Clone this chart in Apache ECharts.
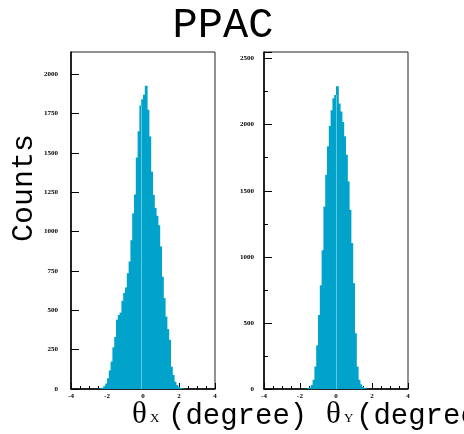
<!DOCTYPE html>
<html>
<head>
<meta charset="utf-8">
<script src="https://cdn.jsdelivr.net/npm/echarts@6/dist/echarts.min.js"></script>
<style>
  html, body { margin: 0; padding: 0; background: #fff; }
  #chart { width: 464px; height: 434px; }
</style>
</head>
<body>
<div id="chart"></div>
<script>
// Histogram bin width (degrees)
const binWidth = 0.1;

// θX histogram: lower bin edges and counts
const thetaXEdges = [-2.5, -2.4, -2.3, -2.2, -2.1, -2.0, -1.9, -1.8, -1.7, -1.6,
  -1.5, -1.4, -1.3, -1.2, -1.1, -1.0, -0.9, -0.8, -0.7, -0.6,
  -0.5, -0.4, -0.3, -0.2, -0.1, 0.0, 0.1, 0.2, 0.3, 0.4,
  0.5, 0.6, 0.7, 0.8, 0.9, 1.0, 1.1, 1.2, 1.3, 1.4,
  1.5, 1.6, 1.7, 1.8, 1.9, 2.0, 2.1, 2.2];
const thetaXCounts = [2, 4, 8, 18, 35, 68, 118, 174, 265, 330,
  440, 470, 485, 560, 610, 645, 735, 810, 945, 1115,
  1235, 1470, 1636, 1800, 1840, 1869, 1926, 1774, 1604, 1380,
  1233, 1150, 1100, 1040, 905, 713, 577, 460, 380, 312,
  142, 89, 46, 25, 14, 6, 3, 1];

// θY histogram: lower bin edges and counts
const thetaYEdges = [-1.7, -1.6, -1.5, -1.4, -1.3, -1.2, -1.1, -1.0, -0.9, -0.8,
  -0.7, -0.6, -0.5, -0.4, -0.3, -0.2, -0.1, 0.0, 0.1, 0.2,
  0.3, 0.4, 0.5, 0.6, 0.7, 0.8, 0.9, 1.0, 1.1, 1.2,
  1.3, 1.4, 1.5, 1.6, 1.7];
const thetaYCounts = [2, 5, 12, 30, 70, 170, 330, 560, 785, 1050,
  1380, 1620, 1836, 1990, 2110, 2200, 2225, 2290, 2160, 2100,
  2020, 1912, 1773, 1571, 1356, 1104, 801, 422, 169, 70,
  35, 15, 7, 3, 1];

// Axis ranges and tick steps
const xRange = [-4, 4];
const xTickStep = 2;
const yMaxX = 2140, yStepX = 250;
const yMaxY = 2550, yStepY = 500;

// Light seam line drawn through each histogram at these bin edges
const seamX = -0.1;
const seamY = 0.0;

const fillColor = '#02a3ca';
const seamColor = '#63c5e0';

function pairs(edges, counts) {
  return edges.map((e, i) => [e, counts[i]]);
}

function seamHeight(edges, counts, x) {
  const i = edges.findIndex(e => Math.abs(e - x) < 1e-9);
  return Math.min(counts[i], counts[i - 1]);
}

function renderBin(params, api) {
  const x0 = api.value(0);
  const h = api.value(1);
  const pTop = api.coord([x0, h]);
  const pEnd = api.coord([x0 + binWidth, 0]);
  return {
    type: 'rect',
    // a 1px overlap into the next bin keeps neighbouring bins seamless
    shape: { x: pTop[0], y: pTop[1], width: pEnd[0] - pTop[0] + 1, height: pEnd[1] - pTop[1] },
    style: { fill: fillColor }
  };
}

function renderSeam(params, api) {
  const a = api.coord([api.value(0), api.value(1)]);
  const b = api.coord([api.value(0), 0]);
  const x = Math.round(a[0]) + 0.5;
  return {
    type: 'line',
    shape: { x1: x, y1: a[1], x2: x, y2: b[1] },
    style: { stroke: seamColor, lineWidth: 1 }
  };
}

const labelFont = { fontFamily: 'Liberation Serif', fontWeight: 'bold', fontSize: 7, color: '#000' };

function xAxisCfg(gridIndex) {
  return {
    type: 'value', gridIndex, min: xRange[0], max: xRange[1], interval: xTickStep,
    axisLine: { show: true, onZero: false, lineStyle: { color: '#000', width: 1.5 } },
    axisTick: { show: true, inside: true, length: 6, lineStyle: { color: '#000' } },
    minorTick: { show: true, splitNumber: 4, length: 3, lineStyle: { color: '#000' } },
    splitLine: { show: false },
    axisLabel: Object.assign({ margin: 4, formatter: v => String(v) }, labelFont)
  };
}

function yAxisCfg(gridIndex, max, step, minor, margin) {
  return {
    type: 'value', gridIndex, min: 0, max: max, interval: step,
    axisLine: { show: true, onZero: false, lineStyle: { color: '#000', width: 1.5 } },
    axisTick: { show: true, inside: true, length: 8, lineStyle: { color: '#000' } },
    minorTick: { show: minor, splitNumber: 2, length: 4, lineStyle: { color: '#000' } },
    splitLine: { show: false },
    axisLabel: Object.assign({ margin: margin, showMaxLabel: false, formatter: v => String(v) }, labelFont)
  };
}

const chart = echarts.init(document.getElementById('chart'), null, { renderer: 'canvas' });
chart.setOption({
  animation: false,
  backgroundColor: '#fff',
  grid: [
    { left: 71, top: 52, width: 144, height: 337, show: true, borderColor: '#222', borderWidth: 1, backgroundColor: 'transparent' },
    { left: 264, top: 52, width: 144, height: 337, show: true, borderColor: '#222', borderWidth: 1, backgroundColor: 'transparent' }
  ],
  xAxis: [xAxisCfg(0), xAxisCfg(1)],
  yAxis: [
    yAxisCfg(0, yMaxX, yStepX, false, 13),
    yAxisCfg(1, yMaxY, yStepY, true, 10)
  ],
  series: [
    { type: 'custom', xAxisIndex: 0, yAxisIndex: 0, renderItem: renderBin, data: pairs(thetaXEdges, thetaXCounts), z: 1 },
    { type: 'custom', xAxisIndex: 1, yAxisIndex: 1, renderItem: renderBin, data: pairs(thetaYEdges, thetaYCounts), z: 1 },
    { type: 'custom', xAxisIndex: 0, yAxisIndex: 0, renderItem: renderSeam, data: [[seamX, seamHeight(thetaXEdges, thetaXCounts, seamX)]], z: 2 },
    { type: 'custom', xAxisIndex: 1, yAxisIndex: 1, renderItem: renderSeam, data: [[seamY, seamHeight(thetaYEdges, thetaYCounts, seamY)]], z: 2 }
  ],
  graphic: [
    { type: 'text', x: 223, y: 26, style: { text: 'PPAC', font: '42px "Liberation Mono"', fill: '#000', textAlign: 'center', textVerticalAlign: 'middle' } },
    { type: 'text', x: 24, y: 188, rotation: Math.PI / 2, style: { text: 'Counts', font: '30px "Liberation Mono"', fill: '#000', textAlign: 'center', textVerticalAlign: 'middle' } },
    // θX (degree)
    { type: 'text', x: 132, y: 415, style: { text: 'θ', font: '31px "Liberation Serif"', fill: '#000', textAlign: 'left', textVerticalAlign: 'middle' } },
    { type: 'text', x: 150, y: 419, style: { text: 'X', font: '13px "Liberation Serif"', fill: '#000', textAlign: 'left', textVerticalAlign: 'middle' } },
    { type: 'text', x: 168, y: 416, style: { text: '(degree)', font: '29px "Liberation Mono"', fill: '#000', textAlign: 'left', textVerticalAlign: 'middle' } },
    // θY (degree)
    { type: 'text', x: 326, y: 415, style: { text: 'θ', font: '31px "Liberation Serif"', fill: '#000', textAlign: 'left', textVerticalAlign: 'middle' } },
    { type: 'text', x: 344, y: 419, style: { text: 'Y', font: '13px "Liberation Serif"', fill: '#000', textAlign: 'left', textVerticalAlign: 'middle' } },
    { type: 'text', x: 356, y: 416, style: { text: '(degree)', font: '29px "Liberation Mono"', fill: '#000', textAlign: 'left', textVerticalAlign: 'middle' } }
  ]
});
</script>
</body>
</html>
